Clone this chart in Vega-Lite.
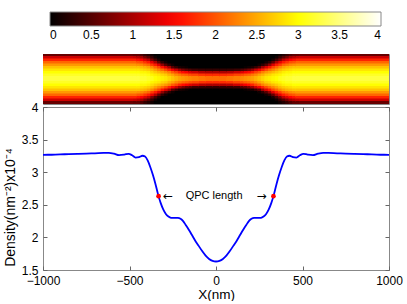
{
 "$schema": "https://vega.github.io/schema/vega-lite/v6.json",
 "padding": {"left": 2, "top": 12, "right": 0, "bottom": 0},
 "background": "white",
 "spacing": 3,
 "bounds": "flush",
 "config": {"font": "Liberation Sans", "view": {"stroke": "#888", "strokeWidth": 1}},
 "datasets": {
  "heat": [
   {"x0":-1000,"x1":-480,"a":0.6,"b":1.2,"c":1.7,"d":2.1,"e":2.4,"f":2.65,"g":2.85,"h":3,"i":3.15,"j":3.25,"k":3.25,"l":3.15,"m":3,"n":2.85,"o":2.65,"p":2.4,"q":2.1,"r":1.7,"s":1.2,"t":0.6},
   {"x0":-480,"x1":-460,"a":0.55,"b":1.15,"c":1.7,"d":2.1,"e":2.4,"f":2.65,"g":2.85,"h":3,"i":3.15,"j":3.25,"k":3.25,"l":3.15,"m":3,"n":2.85,"o":2.65,"p":2.4,"q":2.1,"r":1.7,"s":1.15,"t":0.55},
   {"x0":-460,"x1":-440,"a":0.55,"b":1.05,"c":1.6,"d":2,"e":2.35,"f":2.65,"g":2.85,"h":3,"i":3.15,"j":3.25,"k":3.25,"l":3.15,"m":3,"n":2.85,"o":2.65,"p":2.35,"q":2,"r":1.6,"s":1.05,"t":0.55},
   {"x0":-440,"x1":-420,"a":0.45,"b":0.95,"c":1.5,"d":1.95,"e":2.3,"f":2.6,"g":2.8,"h":2.95,"i":3.1,"j":3.2,"k":3.2,"l":3.1,"m":2.95,"n":2.8,"o":2.6,"p":2.3,"q":1.95,"r":1.5,"s":0.95,"t":0.45},
   {"x0":-420,"x1":-400,"a":0.3,"b":0.7,"c":1.3,"d":1.8,"e":2.2,"f":2.55,"g":2.75,"h":2.95,"i":3.1,"j":3.2,"k":3.2,"l":3.1,"m":2.95,"n":2.75,"o":2.55,"p":2.2,"q":1.8,"r":1.3,"s":0.7,"t":0.3},
   {"x0":-400,"x1":-380,"a":0.2,"b":0.5,"c":1.1,"d":1.65,"e":2.1,"f":2.45,"g":2.7,"h":2.9,"i":3.05,"j":3.15,"k":3.15,"l":3.05,"m":2.9,"n":2.7,"o":2.45,"p":2.1,"q":1.65,"r":1.1,"s":0.5,"t":0.2},
   {"x0":-380,"x1":-360,"a":0.1,"b":0.3,"c":0.7,"d":1.35,"e":1.85,"f":2.3,"g":2.6,"h":2.8,"i":2.95,"j":3.1,"k":3.1,"l":2.95,"m":2.8,"n":2.6,"o":2.3,"p":1.85,"q":1.35,"r":0.7,"s":0.3,"t":0.1},
   {"x0":-360,"x1":-340,"a":0,"b":0.1,"c":0.4,"d":1,"e":1.65,"f":2.1,"g":2.45,"h":2.7,"i":2.9,"j":3,"k":3,"l":2.9,"m":2.7,"n":2.45,"o":2.1,"p":1.65,"q":1,"r":0.4,"s":0.1,"t":0},
   {"x0":-340,"x1":-320,"a":0,"b":0,"c":0.15,"d":0.55,"e":1.3,"f":1.9,"g":2.3,"h":2.6,"i":2.85,"j":2.95,"k":2.95,"l":2.85,"m":2.6,"n":2.3,"o":1.9,"p":1.3,"q":0.55,"r":0.15,"s":0,"t":0},
   {"x0":-320,"x1":-300,"a":0,"b":0,"c":0,"d":0.25,"e":0.85,"f":1.6,"g":2.15,"h":2.5,"i":2.75,"j":2.9,"k":2.9,"l":2.75,"m":2.5,"n":2.15,"o":1.6,"p":0.85,"q":0.25,"r":0,"s":0,"t":0},
   {"x0":-300,"x1":-280,"a":0,"b":0,"c":0,"d":0.1,"e":0.5,"f":1.3,"g":1.95,"h":2.4,"i":2.7,"j":2.85,"k":2.85,"l":2.7,"m":2.4,"n":1.95,"o":1.3,"p":0.5,"q":0.1,"r":0,"s":0,"t":0},
   {"x0":-280,"x1":-260,"a":0,"b":0,"c":0,"d":0,"e":0.25,"f":0.95,"g":1.7,"h":2.25,"i":2.55,"j":2.75,"k":2.75,"l":2.55,"m":2.25,"n":1.7,"o":0.95,"p":0.25,"q":0,"r":0,"s":0,"t":0},
   {"x0":-260,"x1":-240,"a":0,"b":0,"c":0,"d":0,"e":0.1,"f":0.5,"g":1.45,"h":2.05,"i":2.45,"j":2.65,"k":2.65,"l":2.45,"m":2.05,"n":1.45,"o":0.5,"p":0.1,"q":0,"r":0,"s":0,"t":0},
   {"x0":-240,"x1":-220,"a":0,"b":0,"c":0,"d":0,"e":0,"f":0.3,"g":1.2,"h":1.9,"i":2.3,"j":2.55,"k":2.55,"l":2.3,"m":1.9,"n":1.2,"o":0.3,"p":0,"q":0,"r":0,"s":0,"t":0},
   {"x0":-220,"x1":-200,"a":0,"b":0,"c":0,"d":0,"e":0,"f":0.15,"g":0.9,"h":1.7,"i":2.2,"j":2.45,"k":2.45,"l":2.2,"m":1.7,"n":0.9,"o":0.15,"p":0,"q":0,"r":0,"s":0,"t":0},
   {"x0":-200,"x1":-180,"a":0,"b":0,"c":0,"d":0,"e":0,"f":0.1,"g":0.7,"h":1.55,"i":2.1,"j":2.4,"k":2.4,"l":2.1,"m":1.55,"n":0.7,"o":0.1,"p":0,"q":0,"r":0,"s":0,"t":0},
   {"x0":-180,"x1":-160,"a":0,"b":0,"c":0,"d":0,"e":0,"f":0.05,"g":0.55,"h":1.45,"i":2.05,"j":2.35,"k":2.35,"l":2.05,"m":1.45,"n":0.55,"o":0.05,"p":0,"q":0,"r":0,"s":0,"t":0},
   {"x0":-160,"x1":-140,"a":0,"b":0,"c":0,"d":0,"e":0,"f":0,"g":0.45,"h":1.3,"i":1.95,"j":2.3,"k":2.3,"l":1.95,"m":1.3,"n":0.45,"o":0,"p":0,"q":0,"r":0,"s":0,"t":0},
   {"x0":-140,"x1":-100,"a":0,"b":0,"c":0,"d":0,"e":0,"f":0,"g":0.35,"h":1.2,"i":1.9,"j":2.25,"k":2.25,"l":1.9,"m":1.2,"n":0.35,"o":0,"p":0,"q":0,"r":0,"s":0,"t":0},
   {"x0":-100,"x1":-60,"a":0,"b":0,"c":0,"d":0,"e":0,"f":0,"g":0.3,"h":1.05,"i":1.8,"j":2.2,"k":2.2,"l":1.8,"m":1.05,"n":0.3,"o":0,"p":0,"q":0,"r":0,"s":0,"t":0},
   {"x0":-60,"x1":-20,"a":0,"b":0,"c":0,"d":0,"e":0,"f":0,"g":0.28,"h":1,"i":1.75,"j":2.15,"k":2.15,"l":1.75,"m":1,"n":0.28,"o":0,"p":0,"q":0,"r":0,"s":0,"t":0},
   {"x0":-20,"x1":20,"a":0,"b":0,"c":0,"d":0,"e":0,"f":0,"g":0.28,"h":1,"i":1.75,"j":2.15,"k":2.15,"l":1.75,"m":1,"n":0.28,"o":0,"p":0,"q":0,"r":0,"s":0,"t":0},
   {"x0":20,"x1":60,"a":0,"b":0,"c":0,"d":0,"e":0,"f":0,"g":0.28,"h":1,"i":1.75,"j":2.15,"k":2.15,"l":1.75,"m":1,"n":0.28,"o":0,"p":0,"q":0,"r":0,"s":0,"t":0},
   {"x0":60,"x1":100,"a":0,"b":0,"c":0,"d":0,"e":0,"f":0,"g":0.3,"h":1.05,"i":1.8,"j":2.2,"k":2.2,"l":1.8,"m":1.05,"n":0.3,"o":0,"p":0,"q":0,"r":0,"s":0,"t":0},
   {"x0":100,"x1":140,"a":0,"b":0,"c":0,"d":0,"e":0,"f":0,"g":0.35,"h":1.2,"i":1.9,"j":2.25,"k":2.25,"l":1.9,"m":1.2,"n":0.35,"o":0,"p":0,"q":0,"r":0,"s":0,"t":0},
   {"x0":140,"x1":160,"a":0,"b":0,"c":0,"d":0,"e":0,"f":0,"g":0.45,"h":1.3,"i":1.95,"j":2.3,"k":2.3,"l":1.95,"m":1.3,"n":0.45,"o":0,"p":0,"q":0,"r":0,"s":0,"t":0},
   {"x0":160,"x1":180,"a":0,"b":0,"c":0,"d":0,"e":0,"f":0.05,"g":0.55,"h":1.45,"i":2.05,"j":2.35,"k":2.35,"l":2.05,"m":1.45,"n":0.55,"o":0.05,"p":0,"q":0,"r":0,"s":0,"t":0},
   {"x0":180,"x1":200,"a":0,"b":0,"c":0,"d":0,"e":0,"f":0.1,"g":0.7,"h":1.55,"i":2.1,"j":2.4,"k":2.4,"l":2.1,"m":1.55,"n":0.7,"o":0.1,"p":0,"q":0,"r":0,"s":0,"t":0},
   {"x0":200,"x1":220,"a":0,"b":0,"c":0,"d":0,"e":0,"f":0.15,"g":0.9,"h":1.7,"i":2.2,"j":2.45,"k":2.45,"l":2.2,"m":1.7,"n":0.9,"o":0.15,"p":0,"q":0,"r":0,"s":0,"t":0},
   {"x0":220,"x1":240,"a":0,"b":0,"c":0,"d":0,"e":0,"f":0.3,"g":1.2,"h":1.9,"i":2.3,"j":2.55,"k":2.55,"l":2.3,"m":1.9,"n":1.2,"o":0.3,"p":0,"q":0,"r":0,"s":0,"t":0},
   {"x0":240,"x1":260,"a":0,"b":0,"c":0,"d":0,"e":0.1,"f":0.5,"g":1.45,"h":2.05,"i":2.45,"j":2.65,"k":2.65,"l":2.45,"m":2.05,"n":1.45,"o":0.5,"p":0.1,"q":0,"r":0,"s":0,"t":0},
   {"x0":260,"x1":280,"a":0,"b":0,"c":0,"d":0,"e":0.25,"f":0.95,"g":1.7,"h":2.25,"i":2.55,"j":2.75,"k":2.75,"l":2.55,"m":2.25,"n":1.7,"o":0.95,"p":0.25,"q":0,"r":0,"s":0,"t":0},
   {"x0":280,"x1":300,"a":0,"b":0,"c":0,"d":0.1,"e":0.5,"f":1.3,"g":1.95,"h":2.4,"i":2.7,"j":2.85,"k":2.85,"l":2.7,"m":2.4,"n":1.95,"o":1.3,"p":0.5,"q":0.1,"r":0,"s":0,"t":0},
   {"x0":300,"x1":320,"a":0,"b":0,"c":0,"d":0.25,"e":0.85,"f":1.6,"g":2.15,"h":2.5,"i":2.75,"j":2.9,"k":2.9,"l":2.75,"m":2.5,"n":2.15,"o":1.6,"p":0.85,"q":0.25,"r":0,"s":0,"t":0},
   {"x0":320,"x1":340,"a":0,"b":0,"c":0.15,"d":0.55,"e":1.3,"f":1.9,"g":2.3,"h":2.6,"i":2.85,"j":2.95,"k":2.95,"l":2.85,"m":2.6,"n":2.3,"o":1.9,"p":1.3,"q":0.55,"r":0.15,"s":0,"t":0},
   {"x0":340,"x1":360,"a":0,"b":0.1,"c":0.4,"d":1,"e":1.65,"f":2.1,"g":2.45,"h":2.7,"i":2.9,"j":3,"k":3,"l":2.9,"m":2.7,"n":2.45,"o":2.1,"p":1.65,"q":1,"r":0.4,"s":0.1,"t":0},
   {"x0":360,"x1":380,"a":0.1,"b":0.3,"c":0.7,"d":1.35,"e":1.85,"f":2.3,"g":2.6,"h":2.8,"i":2.95,"j":3.1,"k":3.1,"l":2.95,"m":2.8,"n":2.6,"o":2.3,"p":1.85,"q":1.35,"r":0.7,"s":0.3,"t":0.1},
   {"x0":380,"x1":400,"a":0.2,"b":0.5,"c":1.1,"d":1.65,"e":2.1,"f":2.45,"g":2.7,"h":2.9,"i":3.05,"j":3.15,"k":3.15,"l":3.05,"m":2.9,"n":2.7,"o":2.45,"p":2.1,"q":1.65,"r":1.1,"s":0.5,"t":0.2},
   {"x0":400,"x1":420,"a":0.3,"b":0.7,"c":1.3,"d":1.8,"e":2.2,"f":2.55,"g":2.75,"h":2.95,"i":3.1,"j":3.2,"k":3.2,"l":3.1,"m":2.95,"n":2.75,"o":2.55,"p":2.2,"q":1.8,"r":1.3,"s":0.7,"t":0.3},
   {"x0":420,"x1":440,"a":0.45,"b":0.95,"c":1.5,"d":1.95,"e":2.3,"f":2.6,"g":2.8,"h":2.95,"i":3.1,"j":3.2,"k":3.2,"l":3.1,"m":2.95,"n":2.8,"o":2.6,"p":2.3,"q":1.95,"r":1.5,"s":0.95,"t":0.45},
   {"x0":440,"x1":460,"a":0.55,"b":1.05,"c":1.6,"d":2,"e":2.35,"f":2.65,"g":2.85,"h":3,"i":3.15,"j":3.25,"k":3.25,"l":3.15,"m":3,"n":2.85,"o":2.65,"p":2.35,"q":2,"r":1.6,"s":1.05,"t":0.55},
   {"x0":460,"x1":480,"a":0.55,"b":1.15,"c":1.7,"d":2.1,"e":2.4,"f":2.65,"g":2.85,"h":3,"i":3.15,"j":3.25,"k":3.25,"l":3.15,"m":3,"n":2.85,"o":2.65,"p":2.4,"q":2.1,"r":1.7,"s":1.15,"t":0.55},
   {"x0":480,"x1":1000,"a":0.6,"b":1.2,"c":1.7,"d":2.1,"e":2.4,"f":2.65,"g":2.85,"h":3,"i":3.15,"j":3.25,"k":3.25,"l":3.15,"m":3,"n":2.85,"o":2.65,"p":2.4,"q":2.1,"r":1.7,"s":1.2,"t":0.6}
  ],
  "curve": [
   {"x":-1000,"y":3.267},{"x":-950,"y":3.268},{"x":-900,"y":3.272},{"x":-850,"y":3.278},{"x":-800,"y":3.282},{"x":-750,"y":3.285},{"x":-700,"y":3.29},{"x":-650,"y":3.295},{"x":-620,"y":3.297},{"x":-590,"y":3.285},{"x":-560,"y":3.262},{"x":-530,"y":3.27},{"x":-505,"y":3.282},{"x":-485,"y":3.26},{"x":-465,"y":3.225},{"x":-445,"y":3.232},{"x":-425,"y":3.252},{"x":-410,"y":3.24},{"x":-395,"y":3.18},{"x":-380,"y":3.08},{"x":-365,"y":2.96},{"x":-350,"y":2.82},{"x":-335,"y":2.66},{"x":-320,"y":2.53},{"x":-305,"y":2.43},{"x":-290,"y":2.36},{"x":-275,"y":2.32},{"x":-260,"y":2.3},{"x":-240,"y":2.298},{"x":-220,"y":2.298},{"x":-205,"y":2.285},{"x":-190,"y":2.25},{"x":-175,"y":2.19},{"x":-160,"y":2.13},{"x":-140,"y":2.04},{"x":-120,"y":1.95},{"x":-100,"y":1.87},{"x":-80,"y":1.79},{"x":-60,"y":1.72},{"x":-40,"y":1.67},{"x":-20,"y":1.64},{"x":0,"y":1.63},
   {"x":20,"y":1.64},{"x":40,"y":1.67},{"x":60,"y":1.72},{"x":80,"y":1.79},{"x":100,"y":1.87},{"x":120,"y":1.95},{"x":140,"y":2.04},{"x":160,"y":2.13},{"x":175,"y":2.19},{"x":190,"y":2.25},{"x":205,"y":2.285},{"x":220,"y":2.298},{"x":240,"y":2.298},{"x":260,"y":2.3},{"x":275,"y":2.32},{"x":290,"y":2.36},{"x":305,"y":2.43},{"x":320,"y":2.53},{"x":335,"y":2.66},{"x":350,"y":2.82},{"x":365,"y":2.96},{"x":380,"y":3.08},{"x":395,"y":3.18},{"x":410,"y":3.24},{"x":425,"y":3.252},{"x":445,"y":3.232},{"x":465,"y":3.225},{"x":485,"y":3.26},{"x":505,"y":3.282},{"x":530,"y":3.27},{"x":560,"y":3.262},{"x":590,"y":3.285},{"x":620,"y":3.297},{"x":650,"y":3.295},{"x":700,"y":3.29},{"x":750,"y":3.285},{"x":800,"y":3.282},{"x":850,"y":3.278},{"x":900,"y":3.272},{"x":950,"y":3.268},{"x":1000,"y":3.267}
  ],
  "pts": [{"x":-332,"y":2.632},{"x":332,"y":2.632}],
  "notes": [{"x":-277,"y":2.632,"label":"←","kind":"arrow"},{"x":-11,"y":2.632,"label":"QPC length","kind":"text"},{"x":263,"y":2.632,"label":"→","kind":"arrow"}]
 },
 "vconcat": [
  {
   "width": 346,
   "height": 50,
   "data": {"name": "heat"},
   "transform": [{"fold": ["a","b","c","d","e","f","g","h","i","j","k","l","m","n","o","p","q","r","s","t"], "as": ["row","v"]}],
   "mark": {"type": "rect", "x2Offset": 1, "height": {"band": 1.4}, "clip": true},
   "encoding": {
    "x": {"field": "x0", "type": "quantitative", "scale": {"domain": [-1000, 1000], "nice": false, "zero": false}, "axis": null},
    "x2": {"field": "x1"},
    "y": {"field": "row", "type": "ordinal", "axis": null},
    "color": {"field": "v", "type": "quantitative",
     "scale": {"domain": [0, 1.5, 3, 4], "range": ["#000000", "#ff0000", "#ffff00", "#ffffff"], "interpolate": "rgb"},
     "legend": {"type": "gradient", "orient": "none", "direction": "horizontal", "legendX": 7, "legendY": -42, "gradientLength": 331, "gradientThickness": 14, "title": null, "values": [0,0.5,1,1.5,2,2.5,3,3.5,4], "labelExpr": "'' + datum.value", "labelFontSize": 12, "labelColor": "black", "labelAlign": "center", "labelOffset": 4, "gradientStrokeColor": "#888", "gradientStrokeWidth": 1, "padding": 0, "labelOverlap": false}}
   }
  },
  {
   "width": 346,
   "height": 163,
   "layer": [
    {
     "data": {"name": "curve"},
     "mark": {"type": "line", "color": "#0000ff", "strokeWidth": 1.8, "interpolate": "monotone"},
     "encoding": {
      "x": {"field": "x", "type": "quantitative", "scale": {"domain": [-1000, 1000], "nice": false, "zero": false},
       "axis": {"orient": "bottom", "values": [-1000,-500,0,500,1000], "format": "d", "title": "X(nm)", "tickSize": -4, "tickColor": "#666", "labelPadding": 9, "domain": false, "grid": false, "labelFlush": false, "labelOverlap": false, "labelFontSize": 12, "labelColor": "black", "titleFontSize": 13.5, "titleFontWeight": "normal", "titleColor": "black", "titlePadding": 1, "minExtent": 0, "offset": 0}},
      "y": {"field": "y", "type": "quantitative", "scale": {"domain": [1.5, 4], "nice": false, "zero": false},
       "axis": {"orient": "left", "values": [1.5,2,2.5,3,3.5,4], "format": "~g", "title": "Density(nm⁻²)x10⁻⁴", "titleY": 100, "tickSize": -4, "tickColor": "#666", "labelPadding": 9, "domain": false, "grid": false, "labelFlush": false, "labelOverlap": false, "labelFontSize": 12, "labelColor": "black", "titleFontSize": 14, "titleFontWeight": "normal", "titleColor": "black", "titlePadding": 4, "minExtent": 0, "offset": 0}}
     }
    },
    {
     "data": {"name": "pts"},
     "mark": {"type": "circle", "color": "#ff0000", "size": 22, "opacity": 1},
     "encoding": {
      "x": {"field": "x", "type": "quantitative", "axis": {"orient": "top", "values": [-1000,-500,0,500,1000], "labels": false, "title": null, "tickSize": -4, "tickColor": "#666", "domain": false, "grid": false, "minExtent": 0, "maxExtent": 0, "offset": 0}},
      "y": {"field": "y", "type": "quantitative", "axis": {"orient": "right", "values": [1.5,2,2.5,3,3.5,4], "labels": false, "title": null, "tickSize": -4, "tickColor": "#666", "domain": false, "grid": false, "minExtent": 0, "maxExtent": 0, "offset": 0}}
     }
    },
    {
     "data": {"name": "notes"},
     "transform": [{"filter": "datum.kind == 'text'"}],
     "mark": {"type": "text", "fontSize": 11, "color": "black", "baseline": "middle", "align": "center"},
     "encoding": {
      "x": {"field": "x", "type": "quantitative", "axis": null},
      "y": {"field": "y", "type": "quantitative", "axis": null},
      "text": {"field": "label"}
     }
    },
    {
     "data": {"name": "notes"},
     "transform": [{"filter": "datum.kind == 'arrow'"}],
     "mark": {"type": "text", "fontSize": 12, "font": "DejaVu Sans", "color": "black", "baseline": "middle", "align": "center"},
     "encoding": {
      "x": {"field": "x", "type": "quantitative", "axis": null},
      "y": {"field": "y", "type": "quantitative", "axis": null},
      "text": {"field": "label"}
     }
    }
   ],
   "resolve": {"axis": {"x": "independent", "y": "independent"}}
  }
 ]
}
